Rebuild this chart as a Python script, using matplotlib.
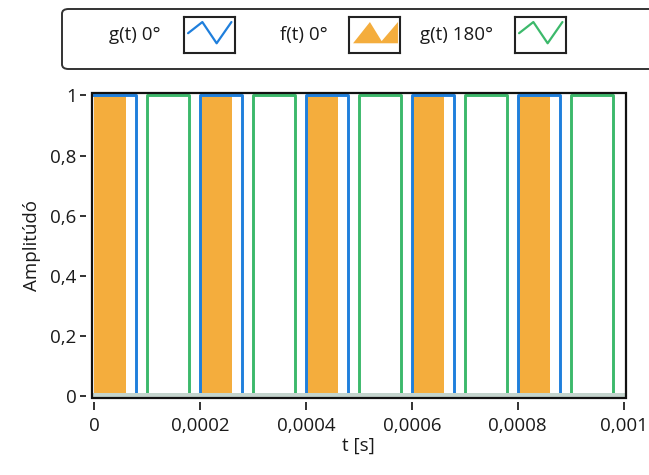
import matplotlib
matplotlib.use("Agg")
import matplotlib.pyplot as plt
from matplotlib.patches import FancyBboxPatch, Rectangle

plt.rcParams['font.family'] = ['Open Sans', 'DejaVu Sans']

# Square-wave signals as (switch time, level) pairs, held until the next time
g0_t = [0, 0.00008, 0.0002, 0.00028, 0.0004, 0.00048, 0.0006, 0.00068, 0.0008, 0.00088, 0.001]
g0_v = [1, 0, 1, 0, 1, 0, 1, 0, 1, 0, 0]

f0_t = [0, 0.00006, 0.0002, 0.00026, 0.0004, 0.00046, 0.0006, 0.00066, 0.0008, 0.00086, 0.001]
f0_v = [1, 0, 1, 0, 1, 0, 1, 0, 1, 0, 0]

g180_t = [0, 0.0001, 0.00018, 0.0003, 0.00038, 0.0005, 0.00058, 0.0007, 0.00078, 0.0009, 0.00098, 0.001]
g180_v = [0, 1, 0, 1, 0, 1, 0, 1, 0, 1, 0, 0]

x_ticks = [0, 0.0002, 0.0004, 0.0006, 0.0008, 0.001]
x_tick_labels = ["0", "0,0002", "0,0004", "0,0006", "0,0008", "0,001"]
y_ticks = [0, 0.2, 0.4, 0.6, 0.8, 1]
y_tick_labels = ["0", "0,2", "0,4", "0,6", "0,8", "1"]

series_names = ["g(t) 0°", "f(t) 0°", "g(t) 180°"]

BLUE = "#1f7fdc"
ORANGE = "#f4ad3d"
GREEN = "#3cb96b"
TEXT = "#1a1a1a"
FS = 13.5

W, H = 649, 475
fig = plt.figure(figsize=(W / 100, H / 100), dpi=100)

# plot area in pixels
left_px, right_px, top_px, bot_px = 92, 625.7, 93, 398
ax = fig.add_axes([left_px / W, 1 - bot_px / H, (right_px - left_px) / W, (bot_px - top_px) / H])
ax.set_zorder(2)

ax.fill_between(f0_t, f0_v, 0, step="post", color=ORANGE, linewidth=0, zorder=1)
ax.step(g180_t, g180_v, where="post", color=GREEN, lw=2.1, zorder=2)
ax.step(g0_t, g0_v, where="post", color=BLUE, lw=2.1, zorder=3)

ax.set_xlim(-0.000004, 0.0010038)
ax.set_ylim(-0.005, 1.008)

# pale trace along the zero level
ax.axhspan(-0.005, 0.013, color="#c4d4cd", lw=0, zorder=4)

ax.set_xticks(x_ticks)
ax.set_xticklabels(x_tick_labels)
ax.set_yticks(y_ticks)
ax.set_yticklabels(y_tick_labels)

for s in ["top", "right"]:
    ax.spines[s].set_visible(False)
for s in ["left", "bottom"]:
    ax.spines[s].set_color("none")
ax.spines["left"].set_position(("outward", 4))
ax.spines["bottom"].set_position(("outward", 3))

ax.tick_params(axis="y", direction="out", length=4, width=1.3, color="#222222",
               pad=3, labelsize=FS, labelcolor=TEXT)
ax.tick_params(axis="x", direction="out", length=6, width=1.3, color="#222222",
               pad=5, labelsize=FS, labelcolor=TEXT)

# frame around the plot area
ax.add_patch(Rectangle((0, 0), 1, 1, transform=ax.transAxes, fill=False,
                       edgecolor="#111111", lw=1.6, clip_on=False, zorder=10))

ax.set_ylabel("Amplitúdó", fontsize=FS, color=TEXT, labelpad=7)
ax.set_xlabel("t [s]", fontsize=FS, color=TEXT, labelpad=1)

# legend panel
def fx(px):
    return px / W

def fy(py):
    return 1 - py / H

panel = FancyBboxPatch((fx(62), fy(69)), fx(700) - fx(62), fy(9) - fy(69),
                       boxstyle="round,pad=0,rounding_size=0.01",
                       transform=fig.transFigure, facecolor="white",
                       edgecolor="#333333", lw=1.4, clip_on=False, zorder=0)
fig.patches.append(panel)

text_right = [161, 328, 493]
icon_left = [184, 349, 515]
icon_w, icon_top, icon_bot = 51, 17, 53

for name, tx, ix, kind in zip(series_names, text_right, icon_left, ["blue", "orange", "green"]):
    fig.text(fx(tx), fy(35), name, ha="right", va="center", fontsize=FS, color=TEXT, zorder=3)
    iax = fig.add_axes([fx(ix), fy(icon_bot), icon_w / W, (icon_bot - icon_top) / H])
    iax.set_zorder(3)
    iax.set_xlim(0, 1)
    iax.set_ylim(0, 1)
    iax.set_xticks([])
    iax.set_yticks([])
    for sp in iax.spines.values():
        sp.set_color("#222222")
        sp.set_linewidth(1.5)
    if kind == "orange":
        ox = [0.08, 0.41, 0.64, 0.96, 0.96]
        oy = [0.27, 0.86, 0.33, 0.86, 0.27]
        iax.fill(ox, oy, color=ORANGE, lw=0)
    else:
        col = BLUE if kind == "blue" else GREEN
        zx = [0.08, 0.36, 0.64, 0.93]
        zy = [0.55, 0.86, 0.27, 0.86]
        iax.plot(zx, zy, color=col, lw=1.6, solid_capstyle="round")

fig.savefig("out.png", dpi=100)
